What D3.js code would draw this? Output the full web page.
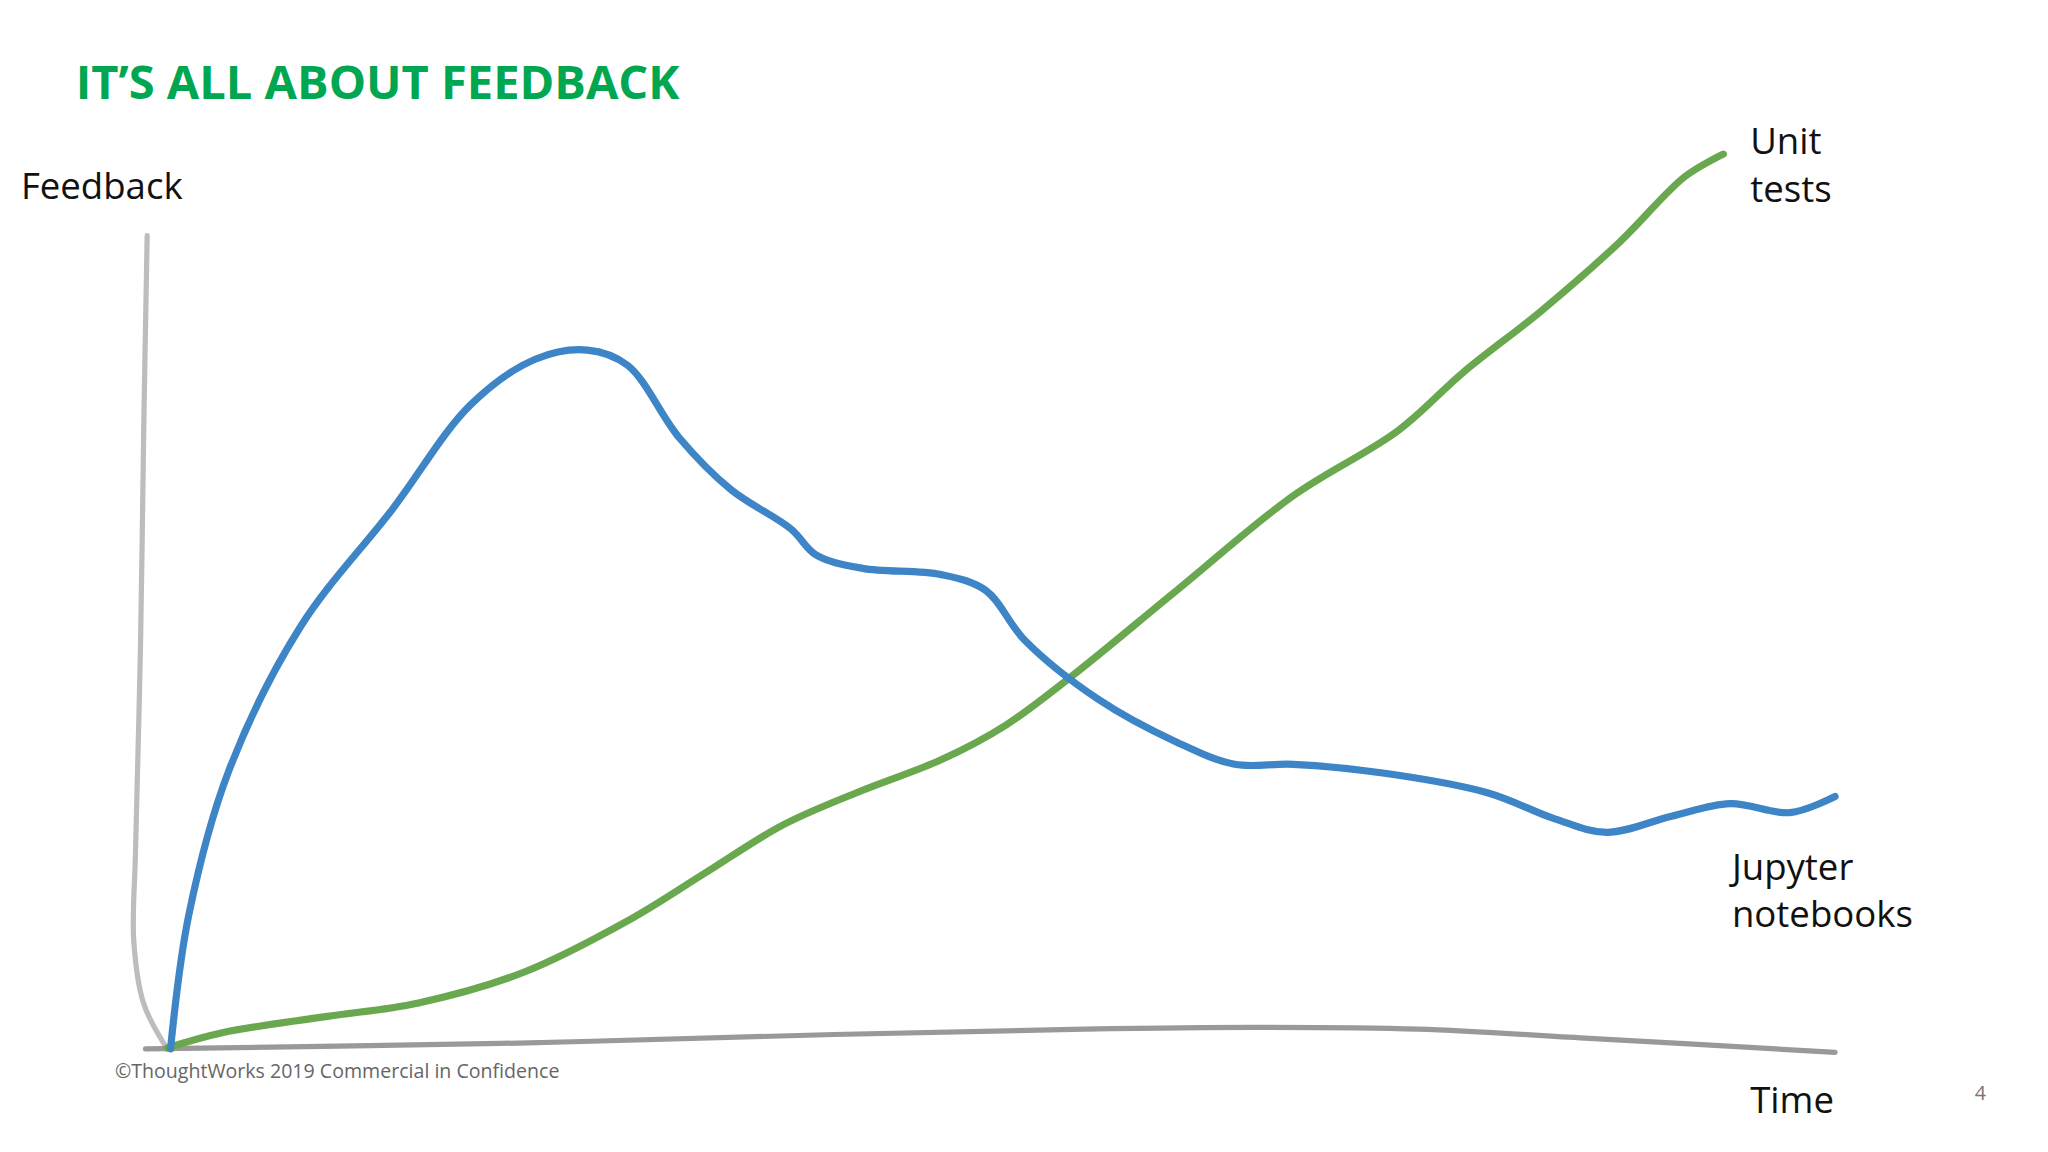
<!DOCTYPE html>
<html>
<head>
<meta charset="utf-8">
<script src="https://cdn.jsdelivr.net/npm/d3@7"></script>
<style>
  body { margin: 0; background: #fff; }
  text { font-family: "Open Sans", sans-serif; }
</style>
</head>
<body>
<div id="chart"></div>
<script>
// time (0-100) vs feedback (0-100)
const jupyterTime = [0.2, 1.3, 3.7, 8.0, 13.5, 18.2, 22.1, 25.2, 27.6, 30.7, 33.8, 37.4, 38.9, 41.7, 46.4, 49.1, 51.4, 55.8, 60.5, 64.0, 67.5, 73.0, 79.2, 83.2, 86.3, 90.2, 93.7, 97.3, 100];
const jupyterFeedback = [0, 15.0, 31.1, 47.2, 60.3, 72.0, 77.1, 78.1, 76.4, 68.3, 62.5, 58.1, 55.2, 53.7, 53.0, 51.2, 45.7, 39.1, 34.3, 31.8, 31.8, 30.8, 28.6, 25.7, 24.2, 26.0, 27.4, 26.4, 28.2];
const unitTime = [0, 3.3, 9.5, 15.0, 21.3, 27.6, 32.3, 36.9, 41.7, 46.4, 50.3, 54.2, 60.5, 67.5, 73.8, 77.7, 82.4, 87.1, 91.0, 93.3];
const unitFeedback = [0.1, 1.8, 3.6, 5.1, 8.5, 14.3, 19.7, 25.0, 28.9, 32.3, 36.2, 41.6, 51.2, 61.8, 69.1, 75.6, 82.5, 90.2, 97.5, 100];
// hand drawn axes
const yAxisTime = [-1.2, -1.4, -1.6, -1.9, -2.0, -1.4, 0];
const yAxisFeedback = [90.9, 70, 45, 22, 12, 5, 0];
const xAxisTime = [-1.3, 20, 40, 55, 65, 75, 85, 100];
const xAxisFeedback = [0, 0.6, 1.6, 2.2, 2.4, 2.2, 1.2, -0.4];

const W = 1568, H = 882;
const svg = d3.select("#chart").append("svg")
  .attr("width", 2048).attr("height", 1152)
  .attr("viewBox", `0 0 ${W} ${H}`);

const x = d3.scaleLinear().domain([0, 100]).range([128, 1405]);
const y = d3.scaleLinear().domain([0, 100]).range([803, 118]);

const line = d3.line()
  .x(d => x(d[0])).y(d => y(d[1]))
  .curve(d3.curveCatmullRom.alpha(0.5));

function draw(xs, ys, color, w) {
  svg.append("path")
    .datum(xs.map((t, i) => [t, ys[i]]))
    .attr("d", line)
    .attr("fill", "none")
    .attr("stroke", color)
    .attr("stroke-width", w)
    .attr("stroke-linecap", "round");
}

draw(yAxisTime, yAxisFeedback, "#bdbdbd", 4);
draw(xAxisTime, xAxisFeedback, "#999999", 4);
draw(unitTime, unitFeedback, "#6aa84f", 5.5);
draw(jupyterTime, jupyterFeedback, "#3d85c6", 5.5);

svg.append("text").attr("x", 58).attr("y", 76)
  .attr("font-size", 36).attr("font-weight", 700).attr("fill", "#00a650")
  .text("IT’S ALL ABOUT FEEDBACK");

const lab = (t, px, py, size, color) => svg.append("text")
  .attr("x", px).attr("y", py).attr("font-size", size).attr("fill", color).text(t);

lab("Feedback", 16, 152, 28, "#111");
lab("Unit", 1340, 118, 28, "#111");
lab("tests", 1340, 155, 28, "#111");
lab("Jupyter", 1326, 674, 28, "#111");
lab("notebooks", 1326, 710, 28, "#111");
lab("Time", 1340, 852, 28, "#111");
lab("©ThoughtWorks 2019 Commercial in Confidence", 88, 825, 15, "#666");
lab("4", 1512, 842, 15, "#777");
</script>
</body>
</html>
